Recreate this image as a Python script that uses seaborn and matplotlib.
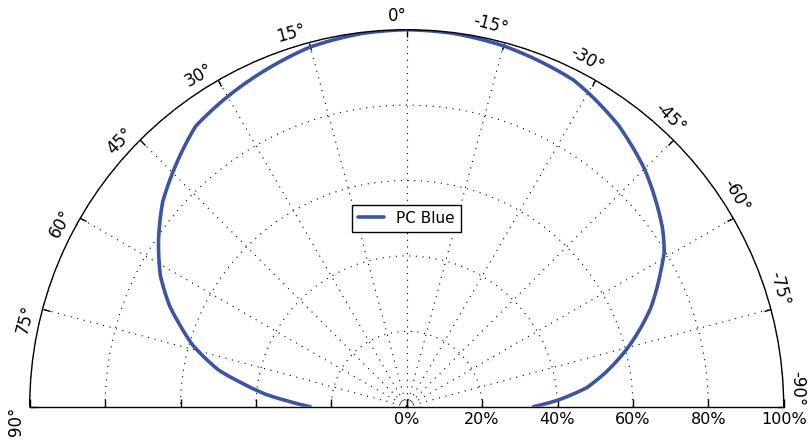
import numpy as np
import pandas as pd
import matplotlib
matplotlib.use('Agg')
import matplotlib.pyplot as plt
import seaborn as sns

# Angle (deg, positive = left of 0°) and relative intensity (%)
angle_deg = [-90, -87.5, -84, -80, -75, -70.6, -68, -62, -59, -57, -55, -50, -45, -37, -30, -27,
             -15, -7, 0, 7, 15, 30, 37, 45, 50, 56, 62, 67, 70, 74, 79, 82, 85, 87.5, 90]
intensity = [33.6, 40.2, 48.0, 53.9, 60.8, 66.5, 69.8, 76.3, 79.7, 81.3, 82.8, 86.0, 89.2, 93.4,
             96.2, 97.3, 99.1, 99.8, 100.0, 99.7, 98.8, 95.0, 93.1, 87.8, 84.5, 79.4, 74.0, 68.3,
             64.2, 59.0, 50.8, 43.8, 37.5, 31.0, 25.6]
theta_ticks = list(range(-90, 91, 15))
r_ticks = [0, 20, 40, 60, 80, 100]
r_labels = [f'{v}%' for v in r_ticks]

df = pd.DataFrame({'theta': np.deg2rad(angle_deg), 'r': intensity})

sns.set_style('white')
plt.rcParams['font.family'] = ['DejaVu Sans']
plt.rcParams['text.color'] = 'k'

fig = plt.figure(figsize=(8.12, 4.41), dpi=100)
# square polar axes; the half-disc sits in its middle band
W, H = 812, 441
side = 754
cx, top = 406.7, 29.7
ax = fig.add_axes([(cx - side / 2) / W, (H - (top - side / 4) - side) / H, side / W, side / H],
                  projection='polar')
ax.set_theta_zero_location('N')
ax.set_thetamin(-90)
ax.set_thetamax(90)

sns.lineplot(data=df, x='theta', y='r', ax=ax, color='#3b54a4', linewidth=2.6,
             label='PC Blue')
for ln in ax.lines:
    ln.get_path()._interpolation_steps = 12

ax.set_rlim(0, 100)
ax.set_thetagrids(theta_ticks, labels=[f'{a}°' for a in theta_ticks])
ax.set_yticks(r_ticks)
ax.set_yticklabels(r_labels)
ax.set_xlabel('')
ax.set_ylabel('')

ax.grid(True, color='k', linestyle=(0, (1, 5)), linewidth=0.8)
ax.tick_params(axis='x', which='major', direction='in', length=5, width=1,
               color='k', labelcolor='k', labelsize=12, bottom=False, top=True,
               labelrotation='auto', pad=3)
ax.tick_params(axis='y', which='major', direction='in', length=6, width=1,
               color='k', labelcolor='k', labelsize=11.5, left=True, right=True, pad=4)
# theta labels end at their tick (old-style placement)
for t in ax.xaxis.get_major_ticks():
    t.label1.set_horizontalalignment('right')
for name, sp in ax.spines.items():
    sp.set_color('k')
    sp.set_linewidth(1.0)

leg = ax.legend(loc='center', frameon=True, fancybox=False, edgecolor='k',
                framealpha=1, fontsize=11, handlelength=1.7)
leg.get_frame().set_linewidth(1.0)
for txt in leg.get_texts():
    txt.set_color('k')

fig.savefig('out.png', dpi=100)
